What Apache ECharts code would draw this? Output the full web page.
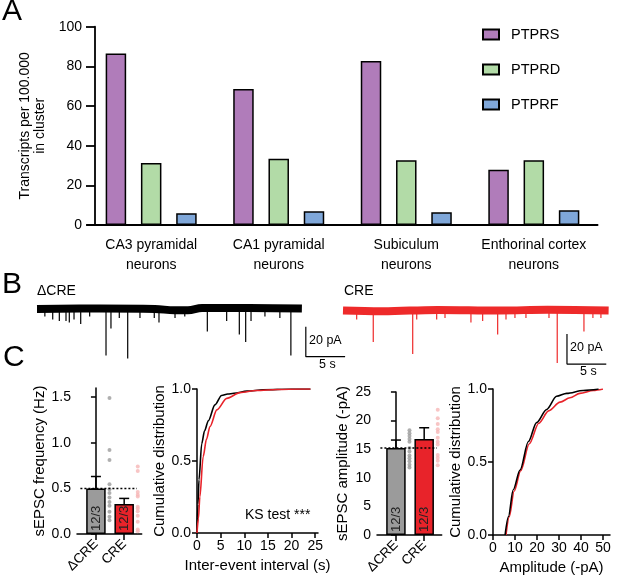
<!DOCTYPE html>
<html>
<head>
<meta charset="utf-8">
<script src="https://cdn.jsdelivr.net/npm/echarts@6/dist/echarts.min.js"></script>
<style>
html, body { margin: 0; padding: 0; background: #fff; }
#main { width: 617px; height: 577px; }
</style>
</head>
<body>
<div id="main"></div>
<script>
// ---- A: transcripts per 100.000 in cluster
var regions = ['CA3 pyramidal\nneurons', 'CA1 pyramidal\nneurons', 'Subiculum\nneurons', 'Enthorinal cortex\nneurons'];
var ptprs = [86.5, 68.6, 82.7, 27.9];
var ptprd = [31.3, 33.4, 32.6, 32.6];
var ptprf = [5.9, 6.9, 6.4, 7.4];

// ---- B: example traces (time s, pA). baseline drift + events [t, amplitude]
var ctrlBaseline = [[0, 0], [8, 0.3], [15, 0], [17.5, -0.8], [19.2, -0.8], [21, 0.7], [27, 0.7], [33.7, 0.3]];
var ctrlEvents = [[1.0, 5], [2.0, 7], [2.84, 8], [3.69, 8], [4.11, 9], [4.71, 7], [5.56, 10], [6.7, 5], [8.78, 31],
  [9.41, 13], [10.47, 6], [11.54, 33], [13.1, 6], [14.92, 6], [15.52, 9], [17.56, 6], [18.8, 5], [21.67, 15],
  [24.13, 8], [25.74, 17], [26.55, 22], [27.23, 8], [29.0, 5], [30.9, 6], [32.3, 31]];
var creBaseline = [[0, 0], [5, -0.5], [12, 0.4], [20, 0], [26, 0.5], [33.8, 0]];
var creEvents = [[1.74, 6], [3.85, 21], [8.87, 29], [9.38, 6], [11.92, 6], [12.98, 5], [16.28, 8], [17.77, 7],
  [19.68, 16], [20.74, 6], [21.88, 5], [23.28, 5], [26.21, 5], [27.26, 35], [30.66, 14], [31.8, 5], [32.82, 5]];
var scaleBarSize = [5, 20]; // s, pA

// ---- C: sEPSC summary
var groups = ['ΔCRE', 'CRE'];
var nCells = ['12/3', '12/3'];
var freqMean = [0.50, 0.33];
var freqSem = [0.13, 0.06];
var freqCtrlCells = [1.49, 0.92, 0.81, 0.545, 0.49, 0.45, 0.40, 0.35, 0.31, 0.245, 0.19, 0.15];
var freqCreCells = [0.74, 0.69, 0.46, 0.43, 0.41, 0.30, 0.28, 0.25, 0.20, 0.135, 0.05, 0.03];
var ampMean = [15.2, 16.8];
var ampSem = [1.4, 1.95];
var ampCtrlCells = [18.3, 17.8, 17.3, 16.8, 16.3, 15.2, 14.6, 13.9, 13.4, 12.9, 12.3, 11.8];
var ampCreCells = [21.9, 20.4, 19.4, 18.5, 18.0, 17.0, 16.3, 15.8, 14.0, 13.5, 13.0, 12.2];
var ieiCdfCtrl = [[0, 0], [0.2, 0.2], [0.42, 0.37], [1.0, 0.62], [1.6, 0.71], [2.4, 0.78], [3.8, 0.89], [5.2, 0.955],
  [6.5, 0.965], [7.8, 0.97], [10.6, 0.985], [14, 0.995], [20, 1.0], [24, 1.0]];
var ieiCdfCre = [[0, 0], [0.3, 0.1], [0.6, 0.25], [1.3, 0.53], [2.0, 0.65], [2.75, 0.74], [4.2, 0.855], [6.3, 0.935],
  [9.1, 0.975], [12.6, 0.99], [17, 0.997], [22, 1.0], [24, 1.0]];
var ampCdfCtrl = [[5.5, 0], [7, 0.125], [9.2, 0.31], [12.3, 0.445], [16.1, 0.64], [19.8, 0.77], [24.4, 0.86],
  [28.9, 0.95], [33.5, 0.97], [41, 0.99], [48, 1.0]];
var ampCdfCre = [[5.9, 0], [7.4, 0.125], [9.6, 0.3], [12.6, 0.44], [16.5, 0.625], [20.8, 0.765], [25.3, 0.85],
  [30.5, 0.91], [35, 0.94], [39.5, 0.97], [45.6, 0.99], [50, 1.0]];

var FONT = '"Liberation Sans", Arial, sans-serif';
var RED = '#e8232a';
var GRAY = '#9b9b9b';

var myChart = echarts.init(document.getElementById('main'));

function hiddenAxis(gi, min, max) {
  return { gridIndex: gi, type: 'value', min: min, max: max, show: false };
}

// axis for panel C
function cAxis(gi, extra) {
  var a = {
    gridIndex: gi,
    type: 'value',
    axisLine: { show: true, lineStyle: { color: '#000', width: 1.5 } },
    axisTick: { show: true, length: 5, lineStyle: { color: '#000', width: 1.5 } },
    axisLabel: { color: '#000', fontSize: 14, fontFamily: FONT, margin: 6 },
    splitLine: { show: false },
    nameTextStyle: { color: '#000', fontSize: 15, fontFamily: FONT },
    nameLocation: 'middle'
  };
  for (var k in extra) {
    if (typeof extra[k] === 'object' && a[k] && !Array.isArray(extra[k])) {
      for (var j in extra[k]) a[k][j] = extra[k][j];
    } else {
      a[k] = extra[k];
    }
  }
  return a;
}

function groupXAxis(gi) {
  return cAxis(gi, {
    min: -0.67, max: 1.62,
    axisTick: { customValues: [0, 1], length: 6 },
    axisLabel: { customValues: [0, 1], rotate: 45, fontSize: 13.5, margin: 8,
      formatter: function (v) { return groups[Math.round(v)]; } }
  });
}

function traceSeries(gi, baseline, events, color) {
  return [{
    type: 'line', xAxisIndex: gi, yAxisIndex: gi, data: baseline, symbol: 'none', silent: true,
    smooth: 0.4,
    lineStyle: { color: color, width: 8, cap: 'butt' }
  }, {
    type: 'bar', xAxisIndex: gi, yAxisIndex: gi, barWidth: 1.2, silent: true,
    data: events.map(function (e) { return [e[0], -e[1]]; }),
    itemStyle: { color: color }
  }];
}

function scaleBar(gi, t0, v0) {
  return {
    type: 'line', xAxisIndex: gi, yAxisIndex: gi, symbol: 'none', silent: true,
    data: [[t0, v0], [t0, v0 - scaleBarSize[1]], [t0 + scaleBarSize[0], v0 - scaleBarSize[1]]],
    lineStyle: { color: '#000', width: 1.2 }
  };
}

function meanBars(gi, means) {
  return {
    type: 'bar', xAxisIndex: gi, yAxisIndex: gi, barWidth: 19.5, z: 3,
    data: means.map(function (m, i) {
      return { value: [i, m], itemStyle: { color: i === 0 ? GRAY : RED, borderColor: '#000', borderWidth: 1.5 } };
    }),
    label: {
      show: true, position: 'insideBottom', rotate: 90, align: 'left', verticalAlign: 'middle', distance: 3,
      fontSize: 13, fontFamily: FONT, color: '#222',
      formatter: function (p) { return nCells[p.dataIndex]; }
    }
  };
}

function errorBars(gi, means, sems) {
  return {
    type: 'custom', xAxisIndex: gi, yAxisIndex: gi, z: 2,
    data: means.map(function (m, i) { return [i, m, m + sems[i]]; }),
    renderItem: function (params, api) {
      var lo = api.coord([api.value(0), api.value(1)]);
      var hi = api.coord([api.value(0), api.value(2)]);
      var st = { stroke: '#000', lineWidth: 1.5 };
      return {
        type: 'group', children: [
          { type: 'line', shape: { x1: lo[0], y1: lo[1], x2: hi[0], y2: hi[1] }, style: st },
          { type: 'line', shape: { x1: hi[0] - 5, y1: hi[1], x2: hi[0] + 5, y2: hi[1] }, style: st }
        ]
      };
    }
  };
}

function cellDots(gi, idx, cells, color) {
  return {
    type: 'scatter', xAxisIndex: gi, yAxisIndex: gi, symbolSize: 4, z: 4,
    data: cells.map(function (v) { return [idx + 0.48, v]; }),
    itemStyle: { color: color }
  };
}

function meanLine(gi, v) {
  return {
    type: 'line', xAxisIndex: gi, yAxisIndex: gi, symbol: 'none', z: 5, silent: true,
    data: [[-0.55, v], [1.45, v]],
    lineStyle: { color: '#000', width: 1.5, type: [2, 2] }
  };
}

function cdfLine(gi, data, color) {
  return {
    type: 'line', xAxisIndex: gi, yAxisIndex: gi, symbol: 'none', data: data,
    smooth: 0.3, smoothMonotone: 'x',
    lineStyle: { color: color, width: 1.6 }
  };
}

var option = {
  animation: false,
  backgroundColor: '#fff',
  textStyle: { fontFamily: FONT },
  grid: [
    { left: 87.4, top: 26.7, width: 510.2, height: 198.3 },   // A
    { left: 37, top: 294, width: 314.4, height: 75 },         // B ctrl
    { left: 343, top: 295.5, width: 267.2, height: 75 },      // B cre
    { left: 77, top: 388, width: 64.7, height: 146 },         // C freq
    { left: 197, top: 389, width: 121, height: 144 },         // C iei cdf
    { left: 377, top: 392, width: 64.7, height: 143 },        // C amp
    { left: 493, top: 389, width: 117, height: 146 }          // C amp cdf
  ],
  legend: {
    data: ['PTPRS', 'PTPRD', 'PTPRF'],
    orient: 'vertical', left: 477, top: 22,
    itemWidth: 16, itemHeight: 10, itemGap: 20,
    icon: 'rect',
    textStyle: { fontSize: 14.5, color: '#000', fontFamily: FONT, padding: [0, 0, 0, 7] }
  },
  xAxis: [
    {
      gridIndex: 0, type: 'category', data: regions,
      axisLine: { lineStyle: { color: '#000', width: 1.8 } },
      axisTick: { alignWithLabel: true, length: 8, lineStyle: { color: '#000', width: 1.8 } },
      axisLabel: { interval: 0, color: '#000', fontSize: 14, lineHeight: 20, margin: 10, fontFamily: FONT }
    },
    hiddenAxis(1, 0, 40),
    hiddenAxis(2, 0, 34),
    groupXAxis(3),
    cAxis(4, {
      min: 0, max: 25.6, name: 'Inter-event interval (s)', nameGap: 25,
      axisTick: { customValues: [0, 5, 10, 15, 20, 25] },
      axisLabel: { customValues: [0, 5, 10, 15, 20, 25] }
    }),
    groupXAxis(5),
    cAxis(6, {
      min: 0, max: 53.2, name: 'Amplitude (-pA)', nameGap: 25,
      axisTick: { customValues: [0, 10, 20, 30, 40, 50] },
      axisLabel: { customValues: [0, 10, 20, 30, 40, 50] }
    })
  ],
  yAxis: [
    {
      gridIndex: 0, type: 'value', min: 0, max: 100, interval: 20, offset: -7.6,
      name: 'Transcripts per 100.000\nin cluster', nameLocation: 'middle', nameGap: 47,
      nameTextStyle: { color: '#000', fontSize: 14, lineHeight: 15, fontFamily: FONT },
      axisLine: { show: true, lineStyle: { color: '#000', width: 1.8 } },
      axisTick: { show: true, length: 9, lineStyle: { color: '#000', width: 1.8 } },
      axisLabel: { color: '#000', fontSize: 14, margin: 13, fontFamily: FONT },
      splitLine: { show: false }
    },
    hiddenAxis(1, -40, 10),
    hiddenAxis(2, -40, 10),
    cAxis(3, {
      min: 0, max: 1.6, name: 'sEPSC frequency (Hz)', nameGap: 30,
      axisTick: { customValues: [0, 0.5, 1, 1.5] },
      axisLabel: { customValues: [0, 0.5, 1, 1.5], formatter: function (v) { return v.toFixed(1); } }
    }),
    cAxis(4, {
      min: 0, max: 1, interval: 0.5, name: 'Cumulative distribution', nameGap: 28,
      axisLabel: { formatter: function (v) { return v.toFixed(1); } }
    }),
    cAxis(5, { min: 0, max: 25, interval: 5, name: 'sEPSC amplitude (-pA)', nameGap: 27 }),
    cAxis(6, {
      min: 0, max: 1, interval: 0.5, name: 'Cumulative distribution', nameGap: 28,
      axisLabel: { formatter: function (v) { return v.toFixed(1); } }
    })
  ],
  series: [
    { name: 'PTPRS', type: 'bar', data: ptprs, barWidth: 20.5, barGap: '72%',
      itemStyle: { color: '#b07cba', borderColor: '#000', borderWidth: 1.5 } },
    { name: 'PTPRD', type: 'bar', data: ptprd, barWidth: 20.5, barGap: '72%',
      itemStyle: { color: '#b2dba7', borderColor: '#000', borderWidth: 1.5 } },
    { name: 'PTPRF', type: 'bar', data: ptprf, barWidth: 20.5, barGap: '72%',
      itemStyle: { color: '#7fa7d9', borderColor: '#000', borderWidth: 1.5 } }
  ]
    .concat(traceSeries(1, ctrlBaseline, ctrlEvents, '#000'))
    .concat(traceSeries(2, creBaseline, creEvents, '#ee2a2a'))
    .concat([
      scaleBar(1, 34.2, -11.8),
      scaleBar(2, 28.5, -15.7),
      errorBars(3, freqMean, freqSem),
      meanBars(3, freqMean),
      cellDots(3, 0, freqCtrlCells, GRAY),
      cellDots(3, 1, freqCreCells, '#f6b6b6'),
      meanLine(3, freqMean[0]),
      cdfLine(4, ieiCdfCtrl, '#000'),
      cdfLine(4, ieiCdfCre, RED),
      errorBars(5, ampMean, ampSem),
      meanBars(5, ampMean),
      cellDots(5, 0, ampCtrlCells, GRAY),
      cellDots(5, 1, ampCreCells, '#f6b6b6'),
      meanLine(5, ampMean[0]),
      cdfLine(6, ampCdfCre, RED),
      cdfLine(6, ampCdfCtrl, '#000')
    ]),
  graphic: [
    { type: 'text', left: 2, top: -3, style: { text: 'A', fontSize: 30, fontFamily: FONT, fill: '#000' } },
    { type: 'text', left: 2, top: 270, style: { text: 'B', fontSize: 30, fontFamily: FONT, fill: '#000' } },
    { type: 'text', left: 3, top: 343, style: { text: 'C', fontSize: 30, fontFamily: FONT, fill: '#000' } },
    { type: 'text', left: 37, top: 284, style: { text: 'ΔCRE', fontSize: 14, fontFamily: FONT, fill: '#000' } },
    { type: 'text', left: 344, top: 284, style: { text: 'CRE', fontSize: 14, fontFamily: FONT, fill: '#000' } },
    { type: 'text', left: 309, top: 334, style: { text: '20 pA', fontSize: 12.5, fontFamily: FONT, fill: '#000' } },
    { type: 'text', left: 319, top: 358, style: { text: '5 s', fontSize: 12.5, fontFamily: FONT, fill: '#000' } },
    { type: 'text', left: 570, top: 341, style: { text: '20 pA', fontSize: 12.5, fontFamily: FONT, fill: '#000' } },
    { type: 'text', left: 580, top: 365, style: { text: '5 s', fontSize: 12.5, fontFamily: FONT, fill: '#000' } },
    { type: 'text', left: 245, top: 508, style: { text: 'KS test ***', fontSize: 14, fontFamily: FONT, fill: '#000' } }
  ]
};

myChart.setOption(option);
</script>
</body>
</html>
